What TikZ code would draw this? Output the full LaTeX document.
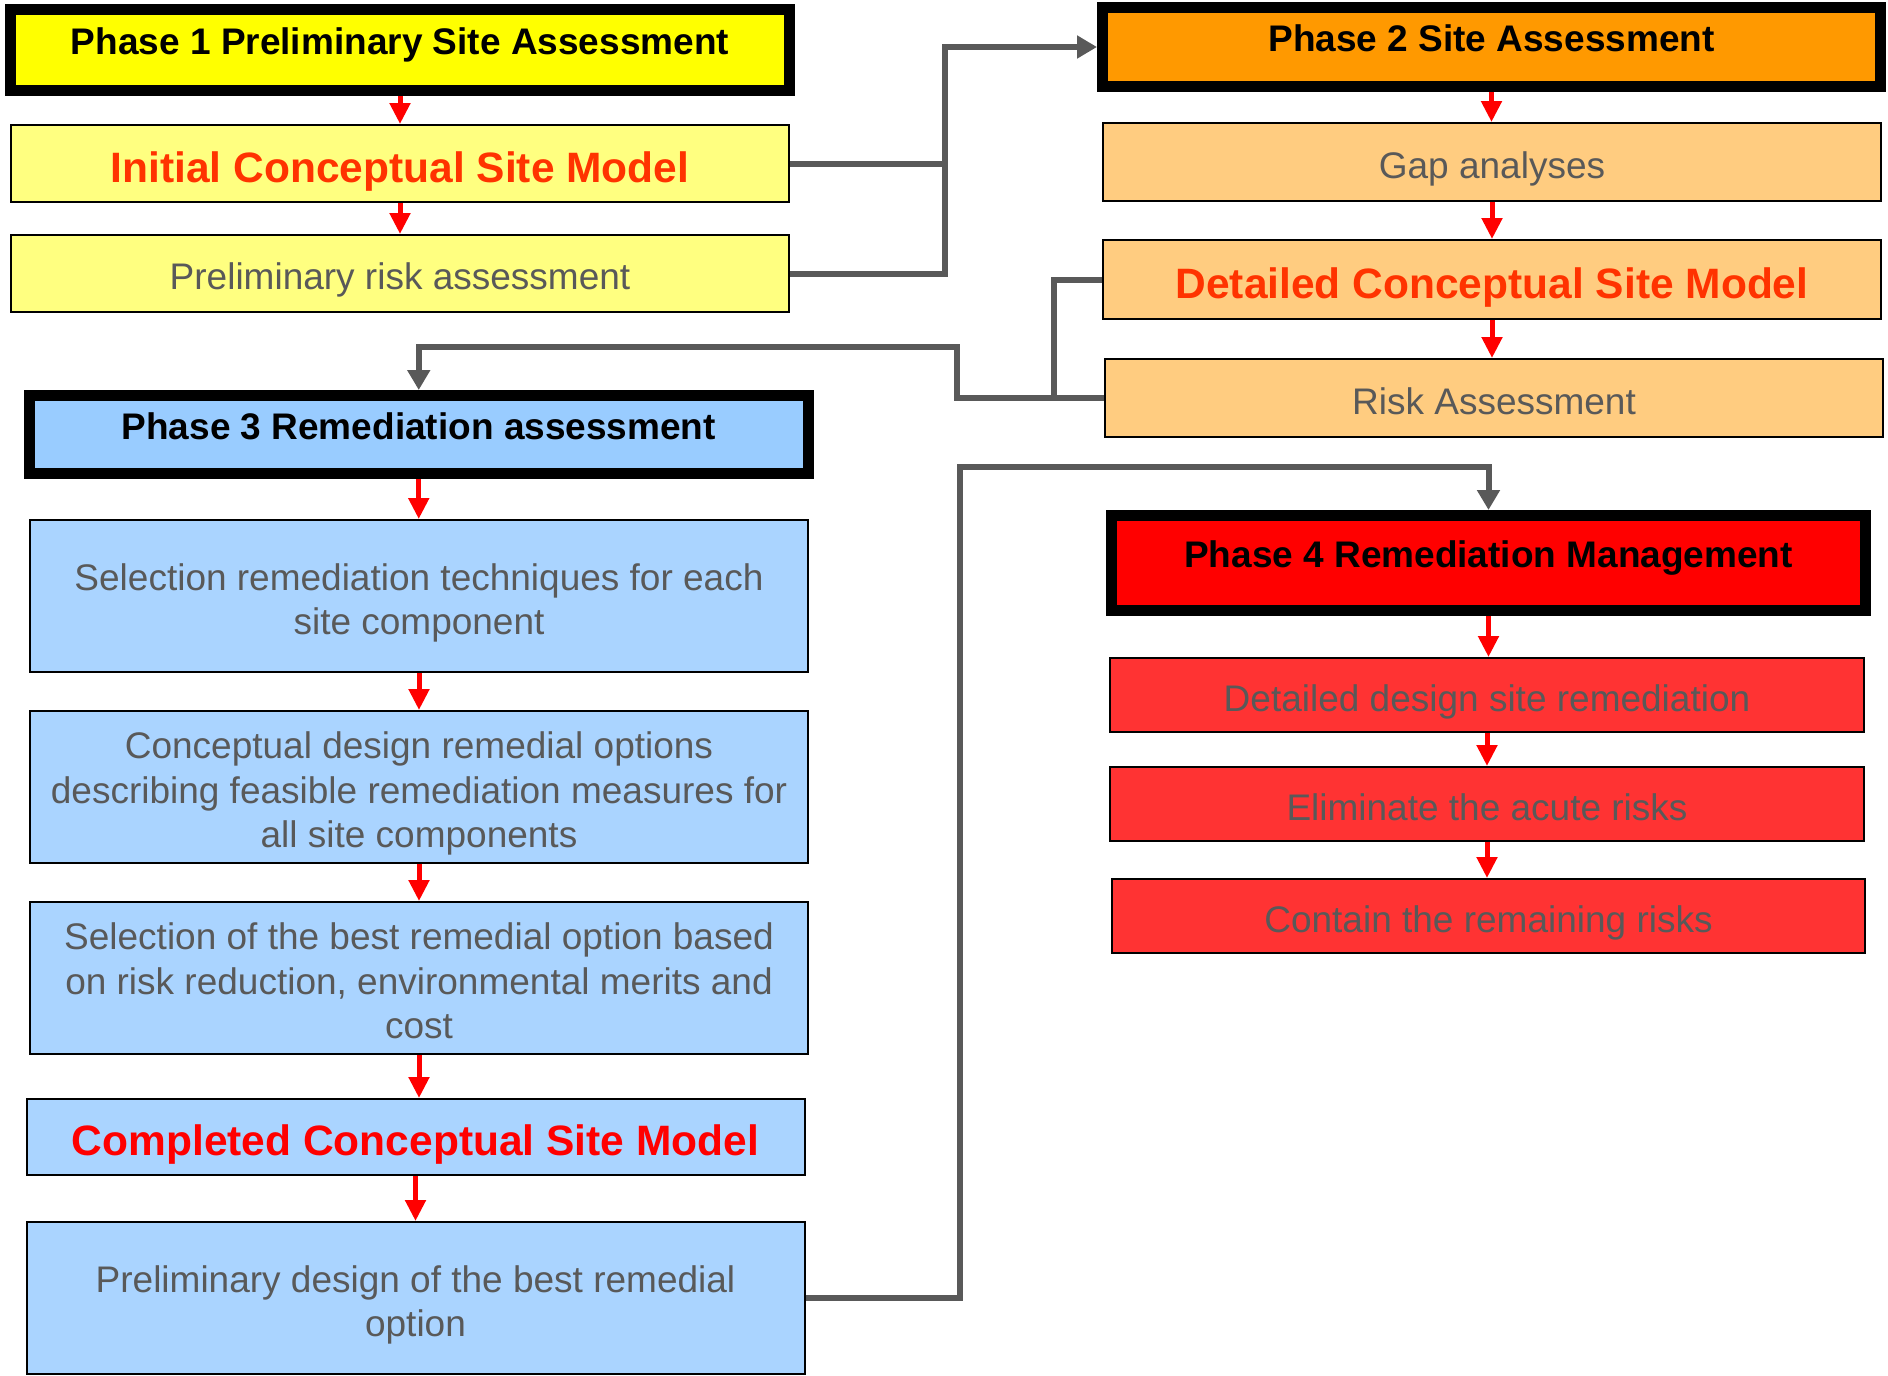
\documentclass[tikz,border=0pt]{standalone}
\usepackage{fontspec}
\setmainfont{Liberation Sans}
\usetikzlibrary{arrows.meta}
\definecolor{pAfill}{HTML}{FFFF00}
\definecolor{pAitem}{HTML}{FFFF80}
\definecolor{pBfill}{HTML}{FF9900}
\definecolor{pBitem}{HTML}{FFCC80}
\definecolor{pCfill}{HTML}{99CCFF}
\definecolor{pCitem}{HTML}{AAD4FF}
\definecolor{pDfill}{HTML}{FF0000}
\definecolor{pDitem}{HTML}{FF3333}
\definecolor{txtgrey}{HTML}{595959}
\definecolor{conngrey}{HTML}{595959}
\definecolor{hiorange}{HTML}{FF3300}
\definecolor{hired}{HTML}{FF0000}
\newcommand\topst{\rule{0pt}{1.19em}}
\newcommand\botst{\rule[-0.3em]{0pt}{0pt}}
\newcommand\hstrut{\rule[-17pt]{0pt}{28pt}}
\begin{document}
\begin{tikzpicture}[x=1pt,y=-1pt,
  phase/.style={draw=black, line width=11pt, inner sep=0pt, font=\bfseries\fontsize{37}{44.5}\selectfont, text=black},
  item/.style={draw=black, line width=2pt, inner sep=0pt, font=\fontsize{37}{44.5}\selectfont, text=txtgrey, align=center},
  keytext/.style={font=\bfseries\fontsize{42.5}{51}\selectfont},
  redarr/.style={draw=red, line width=5pt, -{Triangle[width=20pt,length=21pt]}},
  conn/.style={draw=conngrey, line width=6pt},
  connarr/.style={conn, -{Triangle[width=22pt,length=20pt]}},
]
\useasboundingbox (0,0) rectangle (1888,1376);

% Phase 1
\node[phase, fill=pAfill, minimum width=779pt, minimum height=81pt] (p1) at (400,50) {\hstrut Phase 1 Preliminary Site Assessment};
\node[item, fill=pAitem, minimum width=778pt, minimum height=77pt, keytext, text=hiorange] (icsm) at (400,163.5) {\topst\botst Initial Conceptual Site Model};
\node[item, fill=pAitem, minimum width=778pt, minimum height=77pt] (pra) at (400,273.5) {\topst\botst Preliminary risk assessment};

% Phase 2
\node[phase, fill=pBfill, minimum width=778pt, minimum height=79pt] (p2) at (1491.5,47) {\hstrut Phase 2 Site Assessment};
\node[item, fill=pBitem, minimum width=778pt, minimum height=78pt] (gap) at (1492,162) {\topst\botst Gap analyses};
\node[item, fill=pBitem, minimum width=778pt, minimum height=79pt, keytext, text=hiorange] (dcsm) at (1492,279.5) {\topst\botst Detailed Conceptual Site Model};
\node[item, fill=pBitem, minimum width=778pt, minimum height=78pt] (ra) at (1494,398) {\topst\botst Risk Assessment};

% Phase 3
\node[phase, fill=pCfill, minimum width=779.5pt, minimum height=78pt] (p3) at (418.75,434.5) {\hstrut Phase 3 Remediation assessment};
\node[item, fill=pCitem, minimum width=778pt, minimum height=152pt] (seltech) at (419,596) {\topst Selection remediation techniques for each\\site component\botst};
\node[item, fill=pCitem, minimum width=778pt, minimum height=152pt] (concept) at (419,787) {\topst Conceptual design remedial options\\describing feasible remediation measures for\\all site components\botst};
\node[item, fill=pCitem, minimum width=778pt, minimum height=152pt] (selbest) at (419,978) {\topst Selection of the best remedial option based\\on risk reduction, environmental merits and\\cost\botst};
\node[item, fill=pCitem, minimum width=778pt, minimum height=76pt, keytext, text=hired] (ccsm) at (415.5,1137) {\topst\botst Completed Conceptual Site Model};
\node[item, fill=pCitem, minimum width=778pt, minimum height=152pt] (prelim) at (415.5,1298) {\topst Preliminary design of the best remedial\\option\botst};

% Phase 4
\node[phase, fill=pDfill, minimum width=754pt, minimum height=95pt] (p4) at (1488.5,563) {\hstrut Phase 4 Remediation Management};
\node[item, fill=pDitem, minimum width=754pt, minimum height=74pt] (dd) at (1487,695) {\topst\botst Detailed design site remediation};
\node[item, fill=pDitem, minimum width=754pt, minimum height=74pt] (elim) at (1487,804) {\topst\botst Eliminate the acute risks};
\node[item, fill=pDitem, minimum width=753pt, minimum height=74pt] (contain) at (1488.5,916) {\topst\botst Contain the remaining risks};

% red flow arrows
\draw[redarr] (p1.south) -- (p1.south |- icsm.north);
\draw[redarr] (icsm.south) -- (icsm.south |- pra.north);
\draw[redarr] (p2.south) -- (p2.south |- gap.north);
\draw[redarr] (gap.south) -- (gap.south |- dcsm.north);
\draw[redarr] (dcsm.south) -- (dcsm.south |- ra.north);
\draw[redarr] (p3.south) -- (p3.south |- seltech.north);
\draw[redarr] (seltech.south) -- (seltech.south |- concept.north);
\draw[redarr] (concept.south) -- (concept.south |- selbest.north);
\draw[redarr] (selbest.south) -- (selbest.south |- ccsm.north);
\draw[redarr] (ccsm.south) -- (ccsm.south |- prelim.north);
\draw[redarr] (p4.south) -- (p4.south |- dd.north);
\draw[redarr] (dd.south) -- (dd.south |- elim.north);
\draw[redarr] (elim.south) -- (elim.south |- contain.north);

% grey connectors
\coordinate (j1) at (945,47);
\draw[conn] (icsm.east) -- (icsm.east -| j1);
\draw[connarr] (pra.east) -| (j1) -- (p2.west);

\coordinate (j2) at (1054,398);
\draw[conn] (dcsm.west) -| (j2);
\coordinate (j3) at (957,347);
\draw[connarr] (ra.west) -| (j3) -| (p3.north);

\coordinate (j4) at (960,467);
\draw[connarr] (prelim.east) -| (j4) -| (p4.north);
\end{tikzpicture}
\end{document}
